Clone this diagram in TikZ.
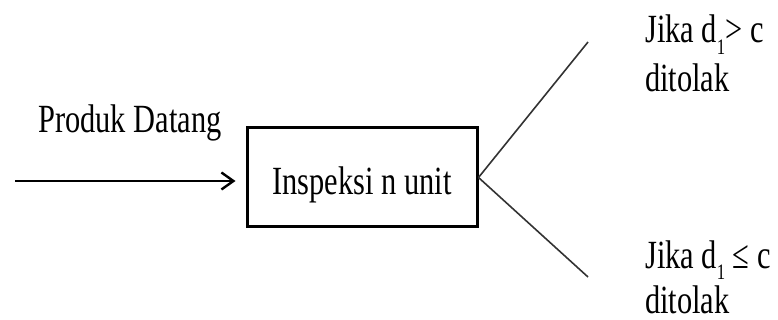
\documentclass[tikz,border=0pt]{standalone}
\usepackage{fontspec}
\setmainfont{Liberation Serif}[FakeStretch=0.76]
\usetikzlibrary{arrows.meta}
\newcommand{\subone}{\raisebox{-0.28em}{\fontsize{22}{22}\selectfont 1}}
\begin{document}
\begin{tikzpicture}[x=1pt,y=-1pt,
  lbl/.style={anchor=base west,inner sep=0pt,font=\fontsize{40}{48}\selectfont},
  boxst/.style={draw,line width=3pt,minimum width=230pt,minimum height=99pt,inner sep=0pt,
    text height=35pt,text depth=0pt,font=\fontsize{40}{48}\selectfont},
  branch/.style={line width=1.6pt,black!80},
  inarrow/.style={line width=2.4pt,-{Straight Barb[length=12pt,width=17pt,line width=2.4pt]}}]
\useasboundingbox (0,0) rectangle (778,320);
\node[boxst] (box) at (362,177.5) {Inspeksi n unit};
\coordinate (in) at (15,181);
\coordinate (up) at (588,42);
\coordinate (down) at (588,277);
\node[lbl] (prod) at (38,133) {Produk Datang};
\node[lbl] (j1) at (645,43) {Jika d\subone> c};
\node[lbl] (t1) at (645,92) {ditolak};
\node[lbl] (j2) at (645,268) {Jika d\subone\ ≤ c};
\node[lbl] (t2) at (645,313) {ditolak};
\draw[inarrow,shorten >=10pt] (in) -- (in -| box.west);
\draw[branch] (box.east) -- (up);
\draw[branch] (box.east) -- (down);
\end{tikzpicture}
\end{document}
